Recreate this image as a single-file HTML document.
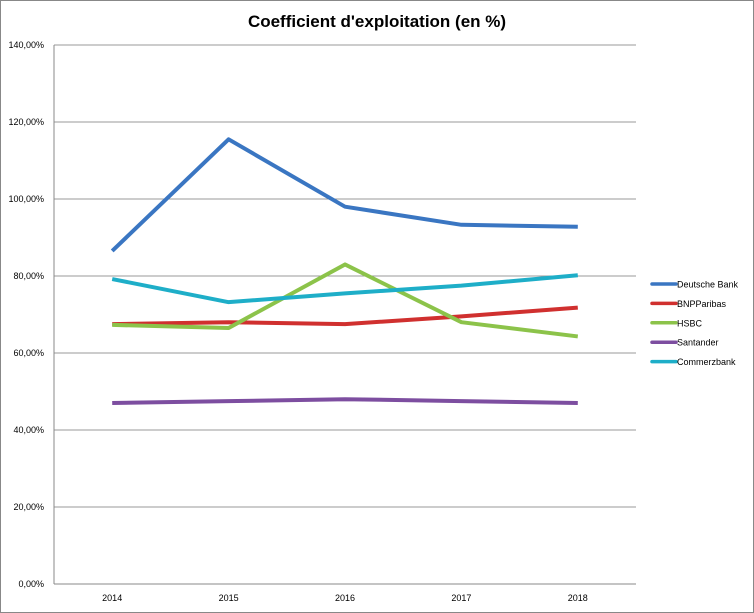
<!DOCTYPE html>
<html><head><meta charset="utf-8"><style>
body{margin:0;background:#fff;}
svg{display:block;font-family:"Liberation Sans",sans-serif;}
</style></head><body>
<svg width="754" height="613">
<rect x="0.5" y="0.5" width="753" height="612" fill="#fff" stroke="#888"/>
<text x="377" y="27" text-anchor="middle" font-size="17" font-weight="bold">Coefficient d'exploitation (en %)</text>
<g id="grid"></g><g id="series"></g><g id="legend"></g>
</svg>
<script>
const categories=["2014","2015","2016","2017","2018"];
const yTicks=[0,20,40,60,80,100,120,140];
const seriesNames=["Deutsche Bank","BNPParibas","HSBC","Santander","Commerzbank"];
const seriesColors=["#3a76c2","#d0302f","#8cc34a","#7d4ea0","#1eaec8"];
const deutsche=[86.5,115.5,98,93.3,92.8];
const bnp=[67.5,68,67.5,69.5,71.8];
const hsbc=[67.3,66.5,83,68,64.3];
const santander=[47,47.5,48,47.5,47];
const commerz=[79.2,73.2,75.5,77.5,80.2];
const seriesValues=[deutsche,bnp,hsbc,santander,commerz];
const L=54,R=636,T=45,B=584,NS="http://www.w3.org/2000/svg";
const y=v=>B-(v/140)*(B-T);
const x=i=>L+(i+0.5)*(R-L)/categories.length;
function mk(t,a,p){const e=document.createElementNS(NS,t);for(const k in a)e.setAttribute(k,a[k]);p.appendChild(e);return e;}
const g=document.getElementById('grid');
yTicks.forEach(v=>{
 const l=mk('line',{x1:L,x2:R,y1:y(v),y2:y(v),stroke:v===0?'#888':'#999','stroke-width':1},g);
 
 
 const t=mk('text',{x:44,y:y(v)+3,'text-anchor':'end','font-size':9},g);t.textContent=v.toFixed(2).replace('.',',')+'%';
 
 
});
const ax=mk('line',{x1:L,x2:L,y1:T,y2:B,stroke:'#888'},g);


categories.forEach((c,i)=>{
 const t=mk('text',{x:x(i),y:601,'text-anchor':'middle','font-size':9},g);t.textContent=c;
 
 
});
const s=document.getElementById('series'),lg=document.getElementById('legend');
seriesValues.forEach((vals,k)=>{
 const p=mk('polyline',{points:vals.map((v,i)=>x(i)+','+y(v)).join(' '),fill:'none',stroke:seriesColors[k],'stroke-width':4,'stroke-linejoin':'round'},s);
 
 
 const ly=284+k*19.4;
 const ll=mk('line',{x1:652,x2:676,y1:ly,y2:ly,stroke:seriesColors[k],'stroke-width':3.5,'stroke-linecap':'round'},lg);
 
 
 const t=mk('text',{x:677,y:ly+3.5,'font-size':9},lg);t.textContent=seriesNames[k];
 
 
});
</script>
</body></html>
